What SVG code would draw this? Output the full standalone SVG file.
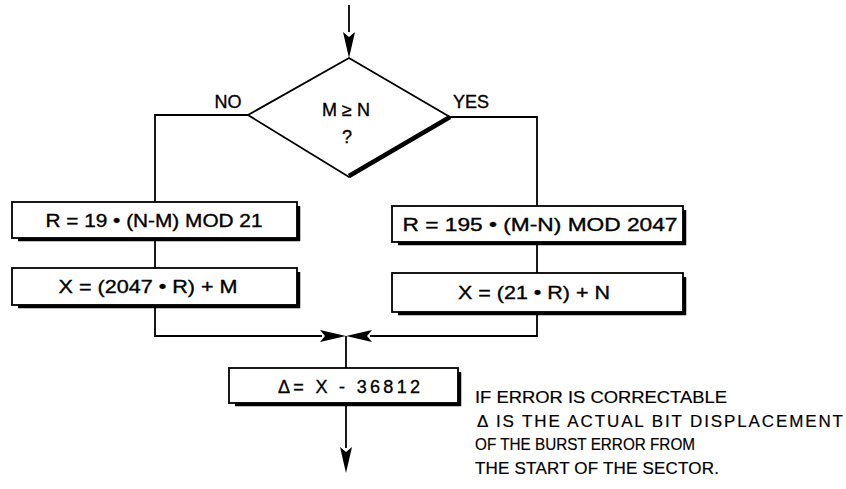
<svg xmlns="http://www.w3.org/2000/svg" width="846" height="489" viewBox="0 0 846 489">
<defs>
<style>
.ln{fill:none;stroke:#000;stroke-width:1.8}
.box{fill:#fff;stroke:#000;stroke-width:1.8}
.sh{fill:none;stroke:#000;stroke-width:3.5}
.t{font-family:"Liberation Sans",Arial,sans-serif;font-size:18px;fill:#000;stroke:#000;stroke-width:0.35;text-anchor:middle}
.n{font-family:"Liberation Sans",Arial,sans-serif;font-size:17px;fill:#000;stroke:#000;stroke-width:0.2}
</style>
</defs>
<rect width="846" height="489" fill="#fff"/>
<g id="connectors">
<line class="ln" x1="349" y1="5" x2="349" y2="32"/>
<path d="M343,32 L349,58 L355,32 L349,37 Z" fill="#000"/>
<polyline class="ln" points="248,115 155,115 155,202"/>
<line class="ln" x1="155" y1="238" x2="155" y2="268"/>
<polyline class="ln" points="155,305 155,336 322,336"/>
<polyline class="ln" points="450,117 537,117 537,206"/>
<line class="ln" x1="537" y1="242" x2="537" y2="273"/>
<polyline class="ln" points="537,312 537,336 370,336"/>
<path d="M320,330 L346,336 L320,342 L325,336 Z" fill="#000"/>
<path d="M372,330 L346,336 L372,342 L367,336 Z" fill="#000"/>
<line class="ln" x1="346" y1="336" x2="346" y2="368"/>
<line class="ln" x1="346" y1="404" x2="346" y2="448"/>
<path d="M340,447 L346,473 L352,447 L346,452 Z" fill="#000"/>
</g>
<g id="decision">
<polygon class="box" points="349,58 450,117 349,177 248,115"/>
<line x1="349" y1="176" x2="450" y2="117" stroke="#000" stroke-width="4.5"/>
<text class="t" x="346" y="116" font-size="19" stroke-width="0.2">M ≥ N</text>
<text class="t" x="347" y="143" font-size="17" stroke-width="0">?</text>
<text class="t" x="228" y="108" font-size="16" stroke-width="0.2">NO</text>
<text class="t" x="471" y="108" font-size="16" stroke-width="0.2">YES</text>
</g>
<g id="left1">
<rect class="box" x="12" y="202" width="285" height="36"/>
<polyline class="sh" points="18,239.5 298.5,239.5 298.5,206"/>
<text class="t" x="154" y="227" textLength="217" lengthAdjust="spacingAndGlyphs">R = 19 • (N-M) MOD 21</text>
</g>
<g id="left2">
<rect class="box" x="12" y="268" width="285" height="37"/>
<polyline class="sh" points="18,306.5 298.5,306.5 298.5,272"/>
<text class="t" x="148" y="293" textLength="179" lengthAdjust="spacingAndGlyphs">X = (2047 • R) + M</text>
</g>
<g id="right1">
<rect class="box" x="392" y="206" width="291" height="36"/>
<polyline class="sh" points="398,243.5 684.5,243.5 684.5,210"/>
<text class="t" x="540" y="231" textLength="275" lengthAdjust="spacingAndGlyphs">R = 195 • (M-N) MOD 2047</text>
</g>
<g id="right2">
<rect class="box" x="392" y="273" width="291" height="39"/>
<polyline class="sh" points="398,313.5 684.5,313.5 684.5,277"/>
<text class="t" x="534" y="299" textLength="152" lengthAdjust="spacingAndGlyphs">X = (21 • R) + N</text>
</g>
<g id="result">
<rect class="box" x="229" y="368" width="229" height="35"/>
<polyline class="sh" points="235,404.5 459.5,404.5 459.5,372"/>
<text class="t" x="349" y="393" font-size="19" stroke-width="0.1" textLength="142" lengthAdjust="spacing">Δ= X - 36812</text>
</g>
<g id="note">
<text class="n" x="475" y="403" stroke-width="0.45" textLength="252" lengthAdjust="spacingAndGlyphs">IF ERROR IS CORRECTABLE</text>
<text class="n" x="477" y="427" textLength="366" lengthAdjust="spacing">Δ IS THE ACTUAL BIT DISPLACEMENT</text>
<text class="n" x="475" y="450" textLength="220" lengthAdjust="spacingAndGlyphs">OF THE BURST ERROR FROM</text>
<text class="n" x="475" y="474" textLength="244" lengthAdjust="spacing">THE START OF THE SECTOR.</text>
</g>
</svg>
